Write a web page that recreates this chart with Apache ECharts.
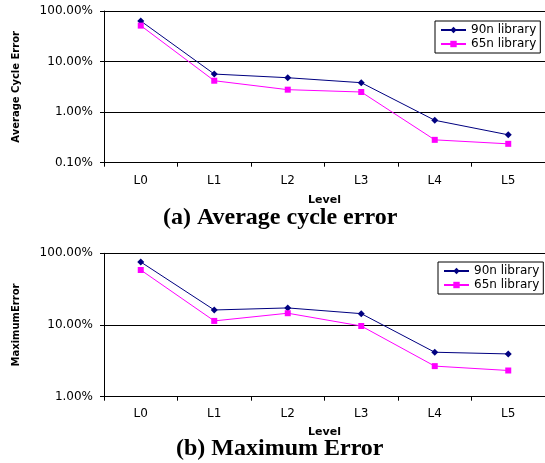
<!DOCTYPE html>
<html>
<head>
<meta charset="utf-8">
<script src="https://cdn.jsdelivr.net/npm/echarts@6/dist/echarts.min.js"></script>
<style>
  html, body { margin: 0; padding: 0; background: #fff; }
  #chart { width: 545px; height: 463px; }
</style>
</head>
<body>
<div id="chart"></div>
<script>
var levels = ['L0', 'L1', 'L2', 'L3', 'L4', 'L5'];
// (a) average cycle error, in percent
var avg90n = [63.5, 5.66, 4.79, 3.82, 0.69, 0.356];
var avg65n = [51.4, 4.18, 2.78, 2.50, 0.283, 0.236];
// (b) maximum error, in percent
var max90n = [75.7, 16.2, 17.3, 14.4, 4.17, 3.95];
var max65n = [58.5, 11.4, 14.6, 9.68, 2.67, 2.32];

var font = 'DejaVu Sans';

function yAxisFor(gridIndex, min, name, gap) {
    return {
        type: 'log',
        gridIndex: gridIndex,
        logBase: 10,
        min: min,
        max: 100,
        name: name,
        nameLocation: 'middle',
        nameRotate: 90,
        nameGap: gap,
        nameTextStyle: { fontFamily: font, fontSize: 10, fontWeight: 'bold', color: '#000' },
        axisLine: { show: true, lineStyle: { color: '#000', width: 1 } },
        axisTick: { show: true, length: 4, lineStyle: { color: '#000' } },
        minorTick: { show: false },
        splitLine: { show: true, lineStyle: { color: '#000', width: 1 } },
        axisLabel: {
            margin: 11,
            fontFamily: font,
            fontSize: 12,
            color: '#000',
            formatter: function (v) { return v.toFixed(2) + '%'; }
        }
    };
}

function xAxisFor(gridIndex, gap, labelMargin) {
    return {
        type: 'category',
        gridIndex: gridIndex,
        data: levels,
        boundaryGap: true,
        name: 'Level',
        nameLocation: 'middle',
        nameGap: gap,
        nameTextStyle: { fontFamily: font, fontSize: 11, fontWeight: 'bold', color: '#000' },
        axisLine: { lineStyle: { color: '#000', width: 1 } },
        axisTick: { show: true, length: 4, alignWithLabel: false, lineStyle: { color: '#000' } },
        axisLabel: { margin: labelMargin, fontFamily: font, fontSize: 12, color: '#000' }
    };
}

function legendAt(left, top) {
    return {
        orient: 'vertical',
        left: left,
        top: top,
        padding: [3, 4, 3, 5],
        itemGap: 2,
        itemWidth: 25,
        itemHeight: 8,
        borderColor: '#000',
        borderWidth: 1,
        borderRadius: 0,
        backgroundColor: '#fff',
        textStyle: { fontFamily: font, fontSize: 12, color: '#000' },
        data: ['90n library', '65n library']
    };
}

function lineSeries(name, data, idx, color, symbol, size) {
    return {
        name: name,
        type: 'line',
        xAxisIndex: idx,
        yAxisIndex: idx,
        data: data,
        symbol: symbol,
        symbolSize: size,
        itemStyle: { color: color },
        lineStyle: { color: color, width: 1 },
        animation: false
    };
}

var myChart = echarts.init(document.getElementById('chart'));
var option = {
    backgroundColor: '#fff',
    animation: false,
    title: [
        {
            text: '(a) Average cycle error',
            left: 158,
            top: 201,
            textStyle: { fontFamily: 'Liberation Serif', fontSize: 24, fontWeight: 'bold', color: '#000' }
        },
        {
            text: '(b) Maximum Error',
            left: 171,
            top: 432,
            textStyle: { fontFamily: 'Liberation Serif', fontSize: 24, fontWeight: 'bold', color: '#000' }
        }
    ],
    legend: [legendAt(435, 21), legendAt(438, 262)],
    grid: [
        { left: 104, top: 11, width: 446, height: 151.7 },
        { left: 104, top: 253.3, width: 446, height: 143.4 }
    ],
    xAxis: [xAxisFor(0, 31.5, 12), xAxisFor(1, 30, 11)],
    yAxis: [
        yAxisFor(0, 0.1, 'Average Cycle Error', 83),
        yAxisFor(1, 1, 'MaximumError', 83)
    ],
    series: [
        lineSeries('90n library', avg90n, 0, '#000080', 'diamond', 7),
        lineSeries('65n library', avg65n, 0, '#ff00ff', 'rect', 6),
        lineSeries('90n library', max90n, 1, '#000080', 'diamond', 7),
        lineSeries('65n library', max65n, 1, '#ff00ff', 'rect', 6)
    ]
};
myChart.setOption(option);
</script>
</body>
</html>
